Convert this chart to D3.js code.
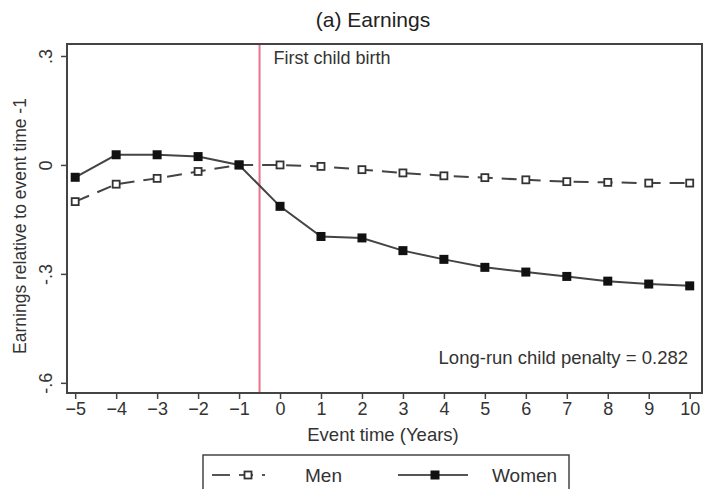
<!DOCTYPE html>
<html><head><meta charset="utf-8">
<script src="https://cdn.jsdelivr.net/npm/d3@7"></script>
<style>body{margin:0;background:#fff}svg{display:block}</style>
</head><body>
<script>
const years = [-5,-4,-3,-2,-1,0,1,2,3,4,5,6,7,8,9,10];
const women = [-0.034,0.028,0.028,0.023,0,-0.114,-0.197,-0.201,-0.236,-0.260,-0.282,-0.295,-0.307,-0.320,-0.328,-0.333];
const men = [-0.101,-0.053,-0.037,-0.018,0,0,-0.004,-0.013,-0.022,-0.030,-0.035,-0.041,-0.046,-0.048,-0.050,-0.050];
const yTicks = [0.3,0,-0.3,-0.6];
const yTickLabels = [".3","0","-.3","-.6"];
const eventLine = -0.5;

const W=704,H=489;
const font = "'Liberation Sans',Arial,sans-serif";
const svg = d3.select("body").append("svg").attr("width",W).attr("height",H)
  .style("font-family",font);
const L=67,R=702,T=44,B=393;
const x = d3.scaleLinear().domain([-5.2,10.3]).range([L,R]);
const y = d3.scaleLinear().domain([0.333,-0.628]).range([T,B]);

// title
svg.append("text").attr("x",373).attr("y",27).attr("text-anchor","middle")
  .attr("font-size",21).attr("fill","#222").text("(a) Earnings");

// frame
svg.append("rect").attr("x",L).attr("y",T).attr("width",R-L).attr("height",B-T)
  .attr("fill","none").attr("stroke","#444").attr("stroke-width",2);

// axes
const yAxis = d3.axisLeft(y).tickValues(yTicks).tickFormat((d,i)=>yTickLabels[i]).tickSize(6).tickPadding(4);
const gy = svg.append("g").attr("transform",`translate(${L},0)`).call(yAxis);
gy.select(".domain").remove();
gy.selectAll(".tick line").attr("stroke","#444").attr("stroke-width",1.5);
gy.selectAll(".tick text").attr("font-size",18).attr("fill","#333")
  .attr("text-anchor","middle").attr("transform","translate(-21,0) rotate(-90)")
  .attr("x",0).attr("dy","0.35em");

const xAxis = d3.axisBottom(x).tickValues(years).tickFormat(d3.format("d")).tickSize(6).tickPadding(3);
const gx = svg.append("g").attr("transform",`translate(0,${B})`).call(xAxis);
gx.select(".domain").remove();
gx.selectAll(".tick line").attr("stroke","#444").attr("stroke-width",1.5);
gx.selectAll(".tick text").attr("font-size",18).attr("fill","#333");

svg.append("text").attr("x",383).attr("y",441).attr("text-anchor","middle")
  .attr("font-size",18.5).attr("fill","#333").text("Event time (Years)");
svg.append("text").attr("transform",`translate(26,226) rotate(-90)`)
  .attr("text-anchor","middle").attr("font-size",17.5).attr("fill","#333")
  .text("Earnings relative to event time -1");

// event line
svg.append("line").attr("x1",x(eventLine)).attr("x2",x(eventLine)).attr("y1",T+1).attr("y2",B-1)
  .attr("stroke","#e8738a").attr("stroke-width",2);
svg.append("text").attr("x",x(eventLine)+14).attr("y",64).attr("font-size",18).attr("fill","#333")
  .text("First child birth");

svg.append("text").attr("x",688).attr("y",364).attr("text-anchor","end").attr("font-size",18.5)
  .attr("fill","#333").text("Long-run child penalty = 0.282");

const line = d3.line().x((d,i)=>x(years[i])).y(d=>y(d));
svg.append("path").datum(men).attr("d",line).attr("fill","none").attr("stroke","#444")
  .attr("stroke-width",2).attr("stroke-dasharray","15,9");
svg.append("path").datum(women).attr("d",line).attr("fill","none").attr("stroke","#444")
  .attr("stroke-width",2);
svg.selectAll(".mm").data(men).enter().append("rect")
  .attr("x",(d,i)=>x(years[i])-3.5).attr("y",d=>y(d)-3.5).attr("width",7).attr("height",7)
  .attr("fill","#fff").attr("stroke","#333").attr("stroke-width",1.8);
svg.selectAll(".wm").data(women).enter().append("rect")
  .attr("x",(d,i)=>x(years[i])-4.5).attr("y",d=>y(d)-4.5).attr("width",9).attr("height",9)
  .attr("fill","#111");

// legend
const lg = svg.append("g");
lg.append("rect").attr("x",203).attr("y",455).attr("width",366).attr("height",45)
  .attr("fill","#fff").attr("stroke","#444").attr("stroke-width",1.5);
const ly = 475;
lg.append("line").attr("x1",212).attr("x2",282).attr("y1",ly).attr("y2",ly)
  .attr("stroke","#555").attr("stroke-width",2).attr("stroke-dasharray","18,9,14,9,3");
lg.append("rect").attr("x",244.5).attr("y",ly-3.5).attr("width",7).attr("height",7)
  .attr("fill","#fff").attr("stroke","#333").attr("stroke-width",1.8);
lg.append("text").attr("x",305).attr("y",ly+7).attr("font-size",19).attr("fill","#333").text("Men");
lg.append("line").attr("x1",398).attr("x2",468).attr("y1",ly).attr("y2",ly)
  .attr("stroke","#555").attr("stroke-width",2);
lg.append("rect").attr("x",430.5).attr("y",ly-4.5).attr("width",9).attr("height",9).attr("fill","#111");
lg.append("text").attr("x",492).attr("y",ly+7).attr("font-size",19).attr("fill","#333").text("Women");
</script>
</body></html>
